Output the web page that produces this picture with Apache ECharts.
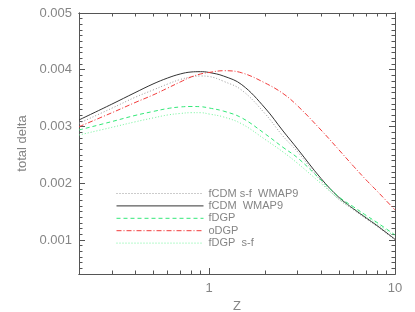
<!DOCTYPE html>
<html>
<head>
<meta charset="utf-8">
<script src="https://cdn.jsdelivr.net/npm/echarts@6/dist/echarts.min.js"></script>
<style>
html,body{margin:0;padding:0;background:#fff;}
#c{width:415px;height:312px;}
</style>
</head>
<body>
<div id="c"></div>
<script>
var zValues = [0.2, 0.3, 0.4, 0.5, 0.6, 0.7, 0.8, 0.9, 1.0, 1.2, 1.5, 2, 2.5, 3, 4, 5, 6, 7, 8, 10];
var fcdmSf   = [0.003056, 0.003321, 0.003513, 0.003643, 0.003749, 0.003828, 0.003872, 0.003890, 0.003881, 0.003795, 0.003640, 0.003227, 0.002829, 0.002551, 0.002040, 0.001714, 0.001529, 0.001370, 0.001238, 0.001000];
var fcdm     = [0.003115, 0.003393, 0.003596, 0.003749, 0.003855, 0.003925, 0.003960, 0.003966, 0.003952, 0.003888, 0.003737, 0.003326, 0.002921, 0.002600, 0.002084, 0.001749, 0.001546, 0.001388, 0.001254, 0.001012];
var fdgp     = [0.002938, 0.003086, 0.003194, 0.003264, 0.003317, 0.003344, 0.003352, 0.003349, 0.003326, 0.003270, 0.003152, 0.002871, 0.002632, 0.002445, 0.002057, 0.001758, 0.001581, 0.001432, 0.001309, 0.001088];
var odgp     = [0.002996, 0.003241, 0.003421, 0.003555, 0.003678, 0.003784, 0.003872, 0.003925, 0.003952, 0.003983, 0.003946, 0.003767, 0.003581, 0.003361, 0.002938, 0.002586, 0.002295, 0.002057, 0.001863, 0.001529];
var fdgpSf   = [0.002850, 0.002984, 0.003081, 0.003150, 0.003203, 0.003229, 0.003243, 0.003243, 0.003220, 0.003167, 0.003046, 0.002773, 0.002551, 0.002348, 0.001996, 0.001722, 0.001555, 0.001405, 0.001282, 0.001062];

var seriesNames = ['fCDM s-f  WMAP9', 'fCDM  WMAP9', 'fDGP', 'oDGP', 'fDGP  s-f'];
var xMajorTicks = [1, 10];
var xMinorTicks = [0.3, 0.4, 0.5, 0.6, 0.7, 0.8, 0.9, 2, 3, 4, 5, 6, 7, 8, 9];
var yMajorTicks = [0.001, 0.002, 0.003, 0.004, 0.005];
var yMinorTicks = [0.0005, 0.0006, 0.0007, 0.0008, 0.0009,
                   0.0011, 0.0012, 0.0013, 0.0014, 0.0015, 0.0016, 0.0017, 0.0018, 0.0019,
                   0.0021, 0.0022, 0.0023, 0.0024, 0.0025, 0.0026, 0.0027, 0.0028, 0.0029,
                   0.0031, 0.0032, 0.0033, 0.0034, 0.0035, 0.0036, 0.0037, 0.0038, 0.0039,
                   0.0041, 0.0042, 0.0043, 0.0044, 0.0045, 0.0046, 0.0047, 0.0048, 0.0049];

function pairs(ys) { return zValues.map(function (z, i) { return [z, ys[i]]; }); }

var AX = '#555';
var TXT = '#858585';
var FONT = 'Liberation Sans';
var XMIN = 0.2, XMAX = 10, YMIN = 0.0004, YMAX = 0.005;

function xAx(pos, ticks, len, labels) {
  return {
    type: 'log', logBase: 10, min: XMIN, max: XMAX, position: pos,
    axisLine: { show: true, lineStyle: { color: AX, width: 1 } },
    axisTick: { show: true, inside: true, length: len, customValues: ticks, lineStyle: { color: AX, width: 1 } },
    axisLabel: labels ? { show: true, customValues: ticks, color: TXT, fontFamily: FONT, fontSize: 13, margin: 8,
                          formatter: function (v) { return String(Math.round(v)); } } : { show: false },
    splitLine: { show: false }, minorTick: { show: false }
  };
}
function yAx(pos, ticks, len, labels) {
  return {
    type: 'value', min: YMIN, max: YMAX, position: pos,
    axisLine: { show: true, lineStyle: { color: AX, width: 1 } },
    axisTick: { show: true, inside: true, length: len, customValues: ticks, lineStyle: { color: AX, width: 1 } },
    axisLabel: labels ? { show: true, customValues: ticks, color: TXT, fontFamily: FONT, fontSize: 13, margin: 7,
                          formatter: function (v) { return v.toFixed(3); } } : { show: false },
    splitLine: { show: false }
  };
}

var xAxes = [xAx('bottom', xMajorTicks, 6, true), xAx('bottom', xMinorTicks, 3.5, false),
             xAx('top', xMajorTicks, 6, false), xAx('top', xMinorTicks, 3.5, false)];
xAxes[0].name = 'Z';
xAxes[0].nameLocation = 'middle';
xAxes[0].nameGap = 24;
xAxes[0].nameTextStyle = { color: TXT, fontFamily: FONT, fontSize: 13 };

var yAxes = [yAx('left', yMajorTicks, 6, true), yAx('left', yMinorTicks, 3.5, false),
             yAx('right', yMajorTicks, 6, false), yAx('right', yMinorTicks, 3.5, false)];
yAxes[0].name = 'total delta';
yAxes[0].nameLocation = 'middle';
yAxes[0].nameGap = 49;
yAxes[0].nameTextStyle = { color: TXT, fontFamily: FONT, fontSize: 13 };

function line(name, data, color, type) {
  return {
    name: name, type: 'line', data: pairs(data), xAxisIndex: 0, yAxisIndex: 0,
    showSymbol: false, symbol: 'none', smooth: 0.4, silent: true, animation: false,
    lineStyle: { color: color, width: 1, type: type },
    itemStyle: { color: color }
  };
}

var chart = echarts.init(document.getElementById('c'), null, { renderer: 'canvas' });
chart.setOption({
  animation: false,
  backgroundColor: '#fff',
  grid: { left: 79, right: 20, top: 13, bottom: 38, containLabel: false, outerBoundsMode: 'none' },
  legend: {
    orient: 'vertical', left: 116, top: 188, padding: 0,
    itemWidth: 87, itemHeight: 9, itemGap: 1.4,
    itemStyle: { opacity: 0 },
    lineStyle: { width: 1 },
    textStyle: { color: TXT, fontFamily: FONT, fontSize: 11, lineHeight: 10 },
    data: seriesNames.map(function (n) { return { name: n }; })
  },
  xAxis: xAxes,
  yAxis: yAxes,
  series: [
    line(seriesNames[0], fcdmSf, '#999999', [1, 2]),
    line(seriesNames[1], fcdm, '#333333', 'solid'),
    line(seriesNames[2], fdgp, '#33e878', [4, 3]),
    line(seriesNames[3], odgp, '#f23a3a', [5, 2, 1, 2]),
    line(seriesNames[4], fdgpSf, '#70f49a', [1, 2])
  ]
});
</script>
</body>
</html>
